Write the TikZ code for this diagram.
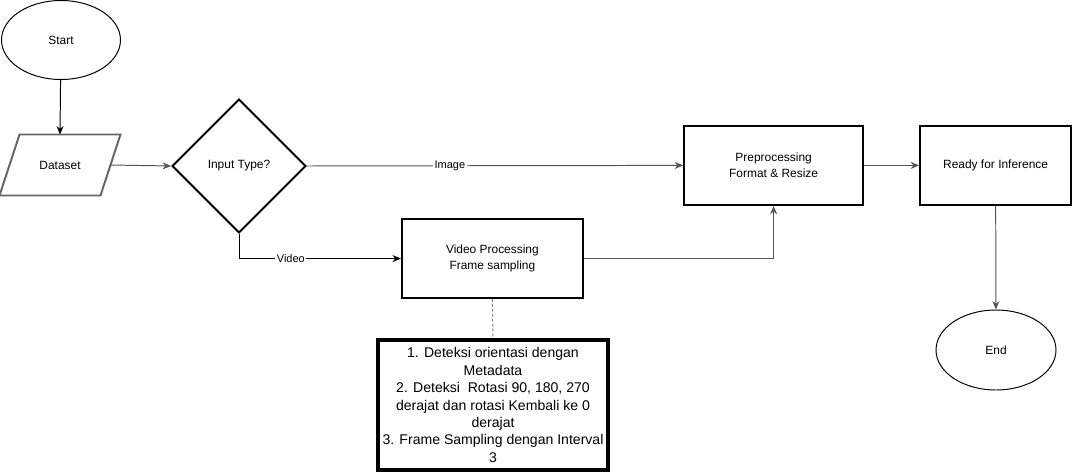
\documentclass[tikz,border=0pt]{standalone}
\usepackage{fontspec}
\setmainfont{Liberation Sans}
\usetikzlibrary{arrows.meta, positioning, shapes.geometric}
\definecolor{edgegray}{HTML}{555555}
\definecolor{lightgray}{HTML}{666666}

\begin{document}
\begin{tikzpicture}[>={Stealth[length=6pt, width=5pt]}, line width=0.7pt,
  font=\fontsize{8.5}{11}\selectfont,
  terminal/.style={ellipse, draw, line width=0.7pt, minimum width=2.975cm, minimum height=1.975cm},
  procbox/.style={rectangle, draw, line width=1.4pt, minimum height=1.975cm, align=center},
  iobox/.style={rectangle, minimum width=2.5cm, minimum height=1.5cm},
  decision/.style={diamond, draw, line width=1.4pt, minimum width=3.35cm, minimum height=3.35cm, inner sep=0pt},
  flow/.style={->, edgegray},
  edgelabel/.style={fill=white, text=black, inner sep=1pt, font=\fontsize{7.8}{9}\selectfont}]

\useasboundingbox (0,0) rectangle (26.825,11.825);

% Start and input
\node[terminal] (start) at (1.525,10.825) {Start};
\node[iobox] (dataset) at (1.5,7.7) {Dataset};
\draw[lightgray, line width=1.4pt]
  ([xshift=0.25cm]dataset.north west) -- ([xshift=0.25cm]dataset.north east)
  -- ([xshift=-0.25cm]dataset.south east) -- ([xshift=-0.25cm]dataset.south west) -- cycle;
\node[decision] (type) at (5.975,7.675) {Input Type?};

% Processing
\node[procbox, minimum width=4.525cm] (video) at (12.31,5.36) {Video Processing\\Frame sampling};
\node[procbox, minimum width=4.475cm] (prep) at (19.34,7.69) {Preprocessing\\Format \& Resize};
\node[procbox, minimum width=3.775cm] (ready) at (24.89,7.69) {Ready for Inference};
\node[terminal, minimum width=3cm, minimum height=2cm] (end) at (24.9,3.075) {End};

% Notes for video step
\node[draw, line width=2.8pt, minimum width=5.75cm, minimum height=3.25cm, align=center,
      font=\fontsize{10}{12.4}\selectfont] (notes) at (12.325,1.7)
  {1. Deteksi orientasi dengan\\Metadata\\2. Deteksi\ \ Rotasi 90, 180, 270\\derajat dan rotasi Kembali ke 0\\derajat\\3. Frame Sampling dengan Interval\\3};

% Connectors
\draw[->, black] (start) -- (dataset.north);
\draw[flow] (dataset.east) -- (type.west);
\draw[flow] (type.east) -- node[edgelabel, pos=0.38] {Image} (prep.west);
\draw[->, black] (type.south) |- node[edgelabel, pos=0.66] {Video} (video.west);
\draw[flow] (video.east) -| (prep.south);
\draw[flow] (prep) -- (ready);
\draw[flow] (ready) -- (end);
\draw[gray, dash pattern=on 2pt off 1.5pt] (video.south) -- (notes.north);

\end{tikzpicture}
\end{document}
